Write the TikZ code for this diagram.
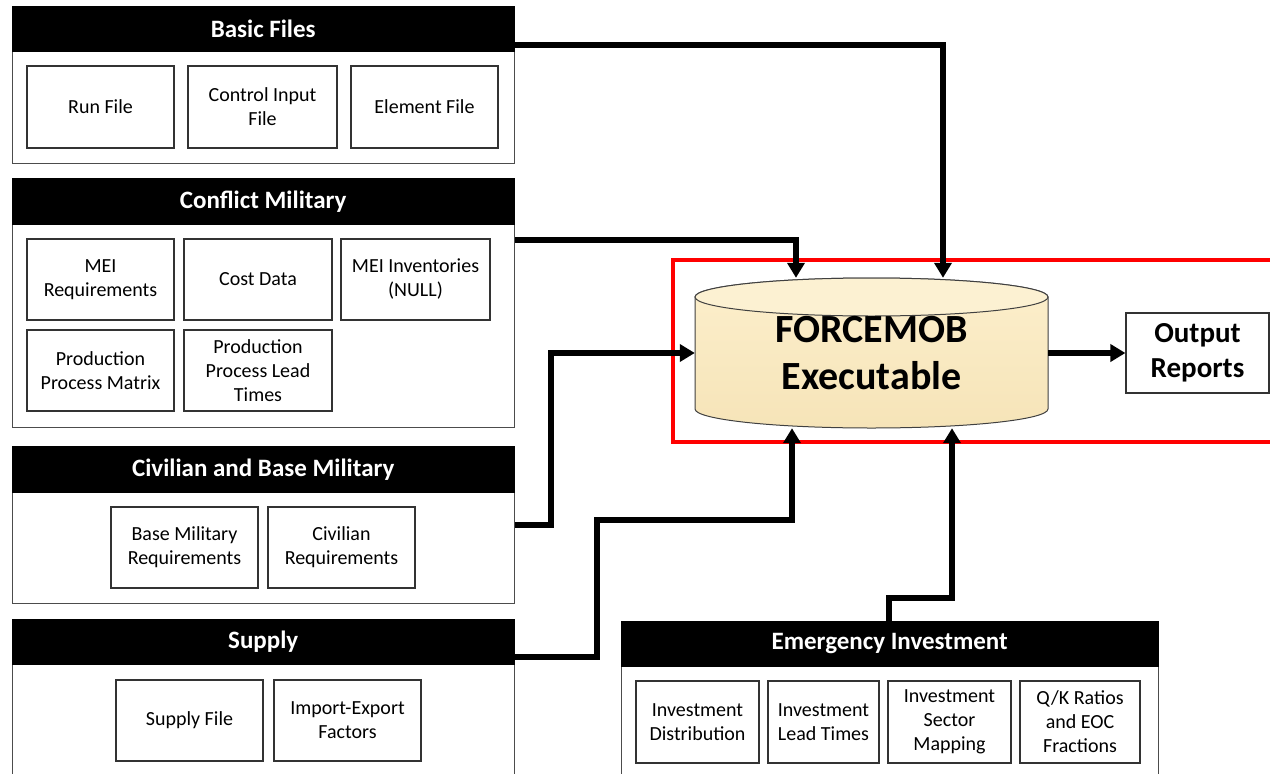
\documentclass[tikz,border=0pt]{standalone}
\usepackage{fontspec}
\setmainfont{Carlito}
\usetikzlibrary{arrows.meta}
\begin{document}
\begin{tikzpicture}[x=1pt,y=-1pt,
  grp/.style={draw=black!70, line width=1.3pt, fill=white, anchor=north west, inner sep=0pt},
  hdr/.style={fill=black, draw=black, text=white, anchor=north west, inner sep=0pt,
    font=\bfseries\fontsize{25}{30}\selectfont},
  ibox/.style={draw=black!80, line width=1.2pt, fill=white, align=center, inner sep=1pt,
    font=\fontsize{20}{24}\selectfont},
  conn/.style={line width=5.2pt, -{Triangle[length=15pt,width=17pt]}},
  ]
\useasboundingbox (0,0) rectangle (1270,774);
\clip (0,0) rectangle (1270,774);
\fill[white] (0,0) rectangle (1270,774);

% ---------- Basic Files ----------
\node[grp, minimum width=502pt, minimum height=157pt] (bf) at (12,6) {};
\node[hdr, minimum width=502pt, minimum height=45pt] (bfh) at (12,6) {Basic Files};
\node[ibox, minimum width=147pt, minimum height=82pt] (run) at (100.5,107) {Run File};
\node[ibox, minimum width=149pt, minimum height=82pt] (cif) at (262.5,107) {Control Input\\File};
\node[ibox, minimum width=147pt, minimum height=82pt] (elf) at (424.5,107) {Element File};

% ---------- Conflict Military ----------
\node[grp, minimum width=502pt, minimum height=249pt] (cm) at (12,178) {};
\node[hdr, minimum width=502pt, minimum height=46pt] (cmh) at (12,178) {Conflict Military};
\node[ibox, minimum width=147pt, minimum height=81pt] (meir) at (100.5,279.5) {MEI\\Requirements};
\node[ibox, minimum width=148pt, minimum height=81pt] (cost) at (258,279.5) {Cost Data};
\node[ibox, minimum width=149pt, minimum height=81pt] (meii) at (415.5,279.5) {MEI Inventories\\(NULL)};
\node[ibox, minimum width=147pt, minimum height=81pt] (ppm) at (100.5,370.5) {Production\\Process Matrix};
\node[ibox, minimum width=148pt, minimum height=81pt] (pplt) at (258,370.5) {Production\\Process Lead\\Times};

% ---------- Civilian and Base Military ----------
\node[grp, minimum width=502pt, minimum height=157pt] (cb) at (12,446) {};
\node[hdr, minimum width=502pt, minimum height=46pt] (cbh) at (12,446) {Civilian and Base Military};
\node[ibox, minimum width=147pt, minimum height=81pt] (bmr) at (184.5,547.5) {Base Military\\Requirements};
\node[ibox, minimum width=147pt, minimum height=81pt] (cvr) at (341.5,547.5) {Civilian\\Requirements};

% ---------- Supply ----------
\node[grp, minimum width=502pt, minimum height=200pt] (su) at (12,619) {};
\node[hdr, minimum width=502pt, minimum height=45pt] (suh) at (12,619) {Supply};
\node[ibox, minimum width=147pt, minimum height=81pt] (spf) at (189.5,720.5) {Supply File};
\node[ibox, minimum width=147pt, minimum height=81pt] (iex) at (347.5,720.5) {Import-Export\\Factors};

% ---------- Emergency Investment ----------
\node[grp, minimum width=537pt, minimum height=200pt] (ei) at (621,621) {};
\node[hdr, minimum width=537pt, minimum height=45pt] (eih) at (621,621) {Emergency Investment};
\node[ibox, minimum width=123pt, minimum height=82pt] (idist) at (697.5,722) {Investment\\Distribution};
\node[ibox, minimum width=111pt, minimum height=82pt] (ilead) at (823.5,722) {Investment\\Lead Times};
\node[ibox, minimum width=123pt, minimum height=82pt] (isec) at (949.5,722) {Investment\\Sector\\Mapping};
\node[ibox, minimum width=120pt, minimum height=82pt] (qk) at (1080,722) {Q/K Ratios\\and EOC\\Fractions};

% ---------- red frame ----------
\draw[red, line width=4pt] (673,260) rectangle (1290,442);

% ---------- cylinder ----------
\path[draw=black!75, line width=1pt, top color={rgb,255:red,252;green,239;blue,204}, bottom color={rgb,255:red,246;green,228;blue,184}]
  (695,297) -- (695,409) arc[start angle=180, end angle=360, x radius=176.5pt, y radius=19pt]
  -- (1048,297) arc[start angle=0, end angle=180, x radius=176.5pt, y radius=19pt] -- cycle;
\draw[black!75, line width=1pt, fill={rgb,255:red,252;green,241;blue,210}] (871.5,297) ellipse[x radius=176.5pt, y radius=19pt];
\node[minimum width=353pt, minimum height=150pt, inner sep=0pt, align=center,
  font=\bfseries\fontsize{40}{47}\selectfont] (fm) at (871.5,353) {FORCEMOB\\Executable};

% ---------- output ----------
\node[draw=black!80, line width=1.2pt, fill=white, minimum width=143pt, minimum height=80pt, inner sep=0pt,
  align=center, font=\bfseries\fontsize{29}{35}\selectfont] (out) at (1197.5,353) {\raisebox{-2pt}{Output}\\\raisebox{-2pt}{Reports}};

% ---------- connectors ----------
\draw[conn] (bf.east |- 0,45) -| (fm.north -| 943,0);
\draw[conn] (cm.east |- 0,240) -| (fm.north -| 796,0);
\draw[conn] (cb.east |- 0,525) -| (551,353) -- (fm.west);
\draw[conn] (su.east |- 0,657) -| (597,520) -| (fm.south -| 792,0);
\draw[conn] (ei.north -| 889,0) |- (952,598) -- (fm.south -| 952,0);
\draw[conn] (fm.east) -- (out.west);
\end{tikzpicture}
\end{document}
